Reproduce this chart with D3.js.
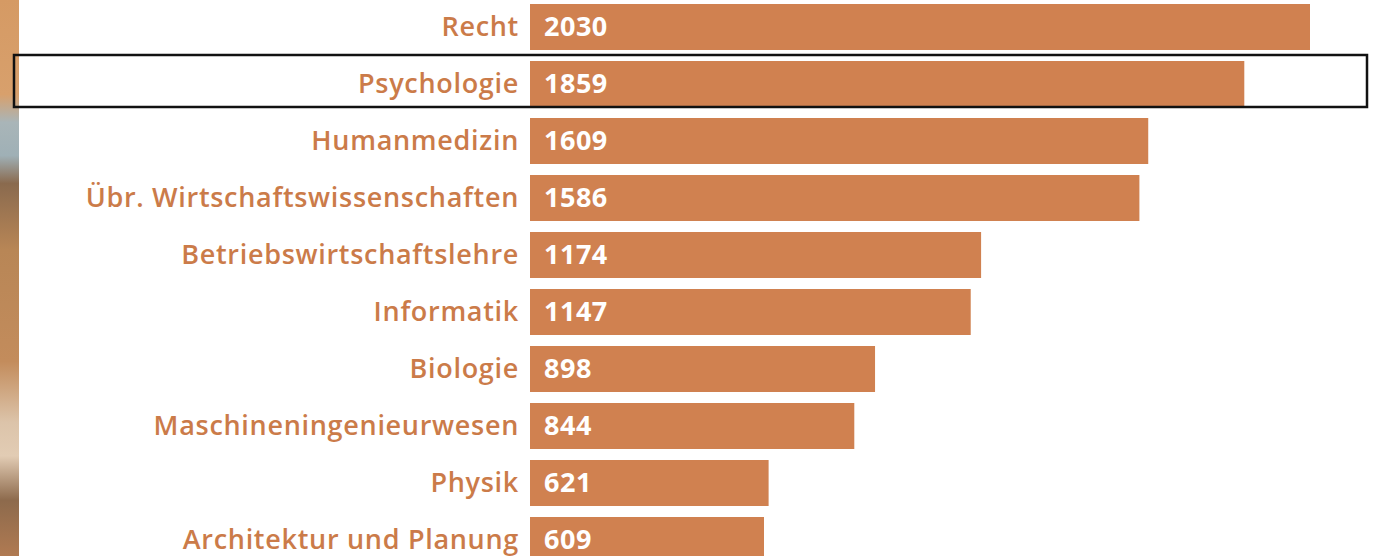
<!DOCTYPE html>
<html>
<head>
<meta charset="utf-8">
<script src="https://cdn.jsdelivr.net/npm/d3@7"></script>
<style>
  body { margin: 0; background: #fff; }
  svg { display: block; }
</style>
</head>
<body>
<svg id="chart" width="1373" height="556"></svg>
<script>
// Studienfaecher und Werte
const faecher = [
    "Recht",
    "Psychologie",
    "Humanmedizin",
    "Übr. Wirtschaftswissenschaften",
    "Betriebswirtschaftslehre",
    "Informatik",
    "Biologie",
    "Maschineningenieurwesen",
    "Physik",
    "Architektur und Planung"
];
const werte = [2030, 1859, 1609, 1586, 1174, 1147, 898, 844, 621, 609];
const markiert = "Psychologie";

// blurred photo strip at the left edge (decoration only)
const stripStops = [
    [0, "#d59a64"], [0.17, "#d8a06c"], [0.22, "#a9b5b8"], [0.28, "#9fb0b6"],
    [0.33, "#8a6a4e"], [0.45, "#b88656"], [0.65, "#c38c5c"], [0.76, "#dcc4aa"],
    [0.82, "#e2ccb4"], [0.9, "#8d6a4c"], [1, "#b07a52"]
];

const data = faecher.map((f, i) => ({name: f, value: werte[i]}));

const svg = d3.select("#chart");
const barColor = "#d08150";
const labelColor = "#cb7b49";

const defs = svg.append("defs");
const grad = defs.append("linearGradient")
    .attr("id", "strip")
    .attr("x1", 0).attr("y1", 0).attr("x2", 0).attr("y2", 1);
grad.selectAll("stop")
    .data(stripStops)
    .enter()
    .append("stop")
    .attr("offset", d => d[0])
    .attr("stop-color", d => d[1]);

svg.append("rect")
    .attr("x", 0).attr("y", 0)
    .attr("width", 19).attr("height", 556)
    .attr("fill", "url(#strip)");

const x = d3.scaleLinear()
    .domain([0, d3.max(werte)])
    .range([530, 1310]);

const y = d3.scaleBand()
    .domain(faecher)
    .range([4, 563])
    .paddingInner(0.193)
    .paddingOuter(0);

// bars
svg.selectAll(".bar")
    .data(data)
    .enter()
    .append("rect")
    .attr("class", "bar")
    .attr("x", x(0))
    .attr("y", d => y(d.name))
    .attr("width", d => x(d.value) - x(0))
    .attr("height", y.bandwidth())
    .attr("fill", barColor);

// category labels
svg.selectAll(".label")
    .data(data)
    .enter()
    .append("text")
    .attr("class", "label")
    .attr("x", x(0) - 11)
    .attr("y", d => y(d.name) + y.bandwidth() / 2)
    .attr("dy", "0.34em")
    .attr("text-anchor", "end")
    .attr("font-family", "'Open Sans', sans-serif")
    .attr("font-weight", 600)
    .attr("font-size", 27)
    .attr("letter-spacing", 0.7)
    .attr("fill", labelColor)
    .text(d => d.name);

// values inside bars
svg.selectAll(".value")
    .data(data)
    .enter()
    .append("text")
    .attr("class", "value")
    .attr("x", x(0) + 14)
    .attr("y", d => y(d.name) + y.bandwidth() / 2)
    .attr("dy", "0.34em")
    .attr("font-family", "'Open Sans', sans-serif")
    .attr("font-weight", 700)
    .attr("font-size", 27)
    .attr("letter-spacing", 0.5)
    .attr("fill", "#fff")
    .text(d => d.value);

// highlight frame around the selected row
svg.append("rect")
    .attr("x", 14)
    .attr("y", y(markiert) - 6)
    .attr("width", 1367 - 14)
    .attr("height", y.bandwidth() + 6)
    .attr("fill", "none")
    .attr("stroke", "#111")
    .attr("stroke-width", 2.5);
</script>
</body>
</html>
